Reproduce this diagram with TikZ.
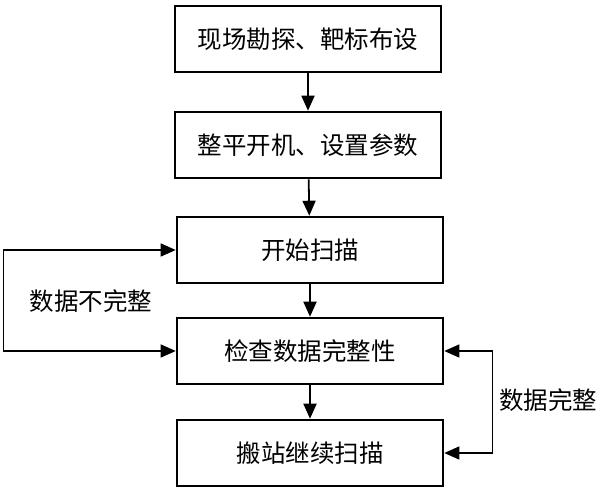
\documentclass[tikz,border=0pt]{standalone}
\usepackage{fontspec}
\setmainfont{Noto Sans CJK SC}
\usetikzlibrary{arrows.meta}
\begin{document}
\begin{tikzpicture}[x=1pt,y=-1pt,
  box/.style={draw=black,line width=2.6pt,minimum width=266pt,minimum height=66pt,inner sep=0pt,font=\fontsize{24.5}{27}\selectfont},
  flow/.style={line width=1.8pt,-{Triangle[width=13pt,length=15pt]}},
  loop/.style={line width=1.4pt,{Triangle[width=13pt,length=15pt]}-{Triangle[width=13pt,length=15pt]}},
  lbl/.style={font=\fontsize{24.5}{27}\selectfont,inner sep=0pt}]
\useasboundingbox (0,0) rectangle (600,491);
\node[box] (b1) at (308,39) {现场勘探、靶标布设};
\node[box] (b2) at (308,145) {整平开机、设置参数};
\node[box] (b3) at (310,250) {开始扫描};
\node[box] (b4) at (310,351) {检查数据完整性};
\node[box] (b5) at (310,453) {搬站继续扫描};
\draw[flow] (b1) -- (b2);
\draw[flow] (b2) -- (b3);
\draw[flow] (b3) -- (b4);
\draw[flow] (b4) -- (b5);
\draw[loop] (b3.west) -- ++(-172,0) |- (b4.west);
\draw[loop] (b4.east) -- ++(48,0) |- (b5.east);
\node[lbl] (l1) at (91,301) {数据不完整};
\node[lbl] (l2) at (548,400) {数据完整};
\end{tikzpicture}
\end{document}
